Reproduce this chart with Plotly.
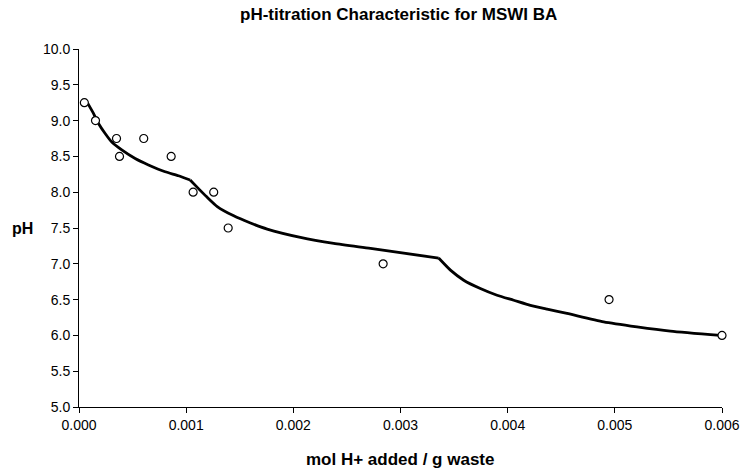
import plotly.graph_objects as go

# Measured data points
meas_x = [0.00005, 0.000154, 0.00035, 0.000378, 0.000604, 0.00086,
          0.001065, 0.001257, 0.001392, 0.002838, 0.004946, 0.006]
meas_ph = [9.25, 9.0, 8.75, 8.5, 8.75, 8.5, 8.0, 8.0, 7.5, 7.0, 6.5, 6.0]

# Model curve; it has two sharp kinks
curve_x = [0.000082, 0.000135, 0.000182, 0.000244, 0.000306, 0.000399,
           0.000524, 0.000648, 0.000804, 0.000928, 0.001037,
           0.001115, 0.001192, 0.00129, 0.001444, 0.0016, 0.001756,
           0.002066, 0.002377, 0.00272, 0.003356,
           0.003466, 0.00359, 0.003745, 0.003901, 0.004056, 0.004212,
           0.004368, 0.004554, 0.004896, 0.005207, 0.005518, 0.005984]
curve_ph = [9.24, 9.10, 8.96, 8.82, 8.70, 8.59,
            8.47, 8.38, 8.285, 8.23, 8.17,
            8.05, 7.935, 7.80, 7.67, 7.57, 7.484,
            7.368, 7.284, 7.214, 7.08,
            6.911, 6.771, 6.655, 6.561, 6.491, 6.42,
            6.366, 6.306, 6.19, 6.12, 6.06, 6.0]
kink_index = [10, 20]

x_ticks = [0.0, 0.001, 0.002, 0.003, 0.004, 0.005, 0.006]
y_ticks = [5.0, 5.5, 6.0, 6.5, 7.0, 7.5, 8.0, 8.5, 9.0, 9.5, 10.0]

FONT = "Liberation Sans, Arial, sans-serif"

W, H = 741, 468
L, R, T, B = 78.5, 19.3, 49, 61.3
plot_w = W - L - R
plot_h = H - T - B

fig = go.Figure()
bounds = [0] + kink_index + [len(curve_x) - 1]
for a, b in zip(bounds[:-1], bounds[1:]):
    fig.add_trace(go.Scatter(
        x=curve_x[a:b + 1], y=curve_ph[a:b + 1], mode="lines",
        line=dict(color="black", width=2.8, shape="spline", smoothing=0.6),
        showlegend=False, hoverinfo="skip"))
fig.add_trace(go.Scatter(
    x=meas_x, y=meas_ph, mode="markers",
    marker=dict(symbol="circle", size=8, color="white",
                line=dict(color="black", width=1.2)),
    showlegend=False, cliponaxis=False))

fig.update_layout(
    template="none",
    width=W, height=H, autosize=False,
    margin=dict(l=L, r=R, t=T, b=B, autoexpand=False),
    paper_bgcolor="white", plot_bgcolor="white",
    font=dict(family=FONT, size=14, color="black"),
    xaxis=dict(range=[0, 0.006], tickvals=x_ticks,
               ticktext=[f"{v:.3f}" for v in x_ticks], automargin=False,
               showgrid=False, zeroline=False, showline=True,
               linecolor="black", linewidth=1, ticks="outside",
               ticklen=5, tickcolor="black", tickfont=dict(size=14)),
    yaxis=dict(range=[5.0, 10.0], tickvals=y_ticks,
               ticktext=[f"{v:.1f}" for v in y_ticks], automargin=False,
               showgrid=False, zeroline=False, showline=True,
               linecolor="black", linewidth=1, ticks="outside",
               ticklen=5, tickcolor="black", tickfont=dict(size=14)),
    annotations=[
        dict(text="<b>pH-titration Characteristic for MSWI BA</b>",
             x=(398.3 - L) / plot_w, y=1 + (T - 15) / plot_h,
             xref="paper", yref="paper", xanchor="center", yanchor="middle",
             showarrow=False, font=dict(size=17, family=FONT)),
        dict(text="<b>mol H+ added / g waste</b>",
             x=(400 - L) / plot_w, y=0, xref="paper", yref="paper",
             xanchor="center", yanchor="middle", yshift=-52.3,
             showarrow=False, font=dict(size=17, family=FONT)),
        dict(text="<b>pH</b>", x=0, y=0.5, xref="paper", yref="paper",
             xanchor="center", yanchor="middle", xshift=-56.5,
             showarrow=False, font=dict(size=16, family=FONT)),
    ],
)

fig.write_html(
    "out.html",
    config={"responsive": False, "displayModeBar": False},
    post_script="document.body.style.margin='0';document.body.style.overflow='hidden';",
)
